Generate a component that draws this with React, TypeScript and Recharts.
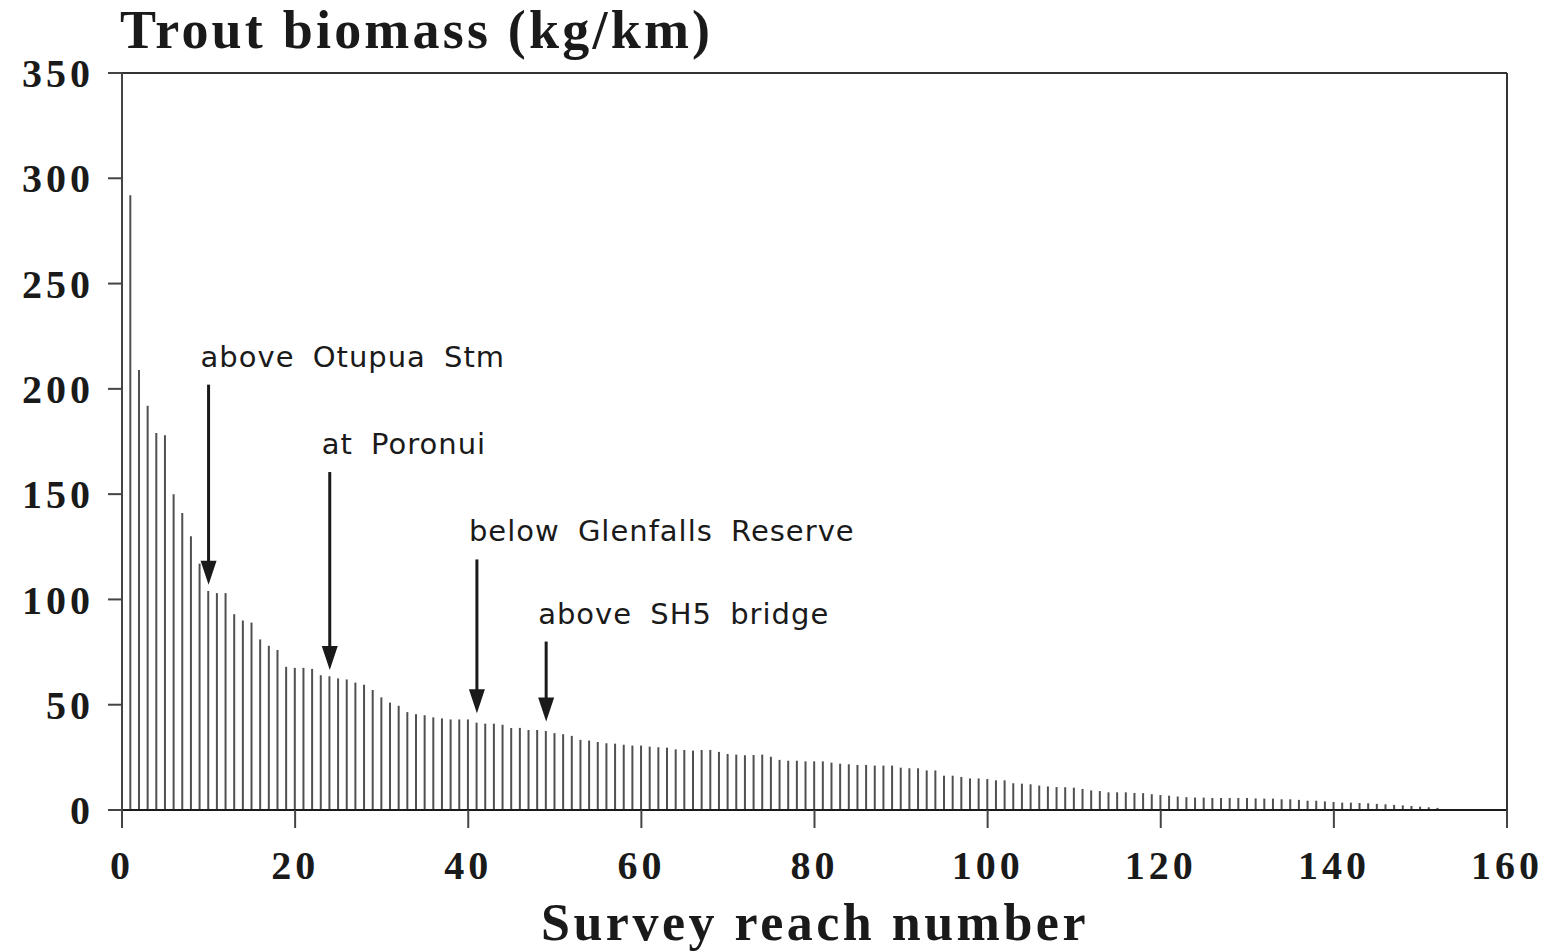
import { BarChart, Bar, XAxis, YAxis, ReferenceLine } from 'recharts';

// trout biomass (kg/km) for survey reaches 1..152, ranked high to low
const BIOMASS = [
    292, 209, 192, 179, 178, 150, 141, 130, 117, 104,
    103, 103, 93, 90, 89, 81, 78, 76, 68, 67.5,
    67.5, 67, 64, 63.5, 62.5, 62, 60.5, 59.5, 57, 53.5,
    51, 49.5, 46.5, 45.5, 45, 44, 43.5, 43, 43, 43,
    41.5, 41, 41, 40.5, 39, 39, 38, 38, 37.5, 36.5,
    36, 35.2, 33.3, 33, 32.3, 31.7, 31.5, 31, 30.6, 30.6,
    30.1, 29.8, 29.6, 28.8, 28.5, 28.2, 28.5, 28.5, 27.6, 26.6,
    26.3, 26, 26.1, 26.3, 25.3, 23.8, 23.4, 23.4, 23.1, 23.1,
    23.1, 22.5, 22, 21.7, 21.4, 21.4, 21.1, 21.1, 21.1, 20.1,
    19.8, 19.8, 18.8, 18.8, 16.3, 16.3, 15.7, 15, 15, 14.7,
    14.1, 14.1, 12.7, 12.5, 12.2, 11.6, 11.2, 10.9, 10.8, 10.6,
    10, 9.3, 9, 8.4, 8.4, 8.4, 8.1, 8, 7.5, 7.1,
    6.8, 6.4, 6.1, 5.9, 5.9, 5.7, 5.7, 5.7, 5.7, 5.7,
    5.5, 5.4, 5.4, 5.1, 5.1, 4.8, 4.4, 4.4, 4.1, 3.8,
    3.5, 3.5, 3.3, 3.2, 2.9, 2.7, 2.4, 2.2, 1.9, 1.6,
    1.3, 1.0,
];

const X_TICKS = [0, 20, 40, 60, 80, 100, 120, 140, 160];
const Y_TICKS = [0, 50, 100, 150, 200, 250, 300, 350];

const NOTE_TEXT = ['above Otupua Stm', 'at Poronui', 'below Glenfalls Reserve', 'above SH5 bridge'];
const NOTE_REACH = [10, 24, 41, 49];
const NOTE_FROM = [202, 160.5, 119, 80];
const NOTE_TO = [107, 66.5, 46, 42];

const rows = BIOMASS.map((biomass, i) => ({ reach: i + 1, biomass }));

const serif = '"Liberation Serif", "Times New Roman", serif';
const sans = '"DejaVu Sans", sans-serif';
const ink = '#1a1a1a';

const tickStyle = {
    fontFamily: serif,
    fontWeight: 700,
    fontSize: 40,
    fill: ink,
    letterSpacing: 4,
};

const ArrowNote = (props: any) => {
    const { x1, y1, x2, y2, text } = props;
    const top = Math.min(y1, y2);
    const tip = Math.max(y1, y2);
    return (
        <g>
            <text
                x={x1 - 8}
                y={top - 18}
                fontFamily={sans}
                fontSize={29}
                fill={ink}
                letterSpacing={1}
                style={{ wordSpacing: 8 }}
            >
                {text}
            </text>
            <line x1={x1} y1={top} x2={x2} y2={tip - 16} stroke={ink} strokeWidth={3} />
            <path d={`M${x2 - 8},${tip - 24} L${x2 + 8},${tip - 24} L${x2},${tip} Z`} fill={ink} />
        </g>
    );
};

export default function App() {
    return (
        <div style={{ position: 'absolute', left: 0, top: 0, background: '#fff' }}>
            <BarChart
                width={1550}
                height={952}
                data={rows}
                margin={{ top: 73, right: 43, bottom: 62, left: 0 }}
                barSize={2}
            >
                <XAxis
                    dataKey="reach"
                    type="number"
                    domain={[0, 160]}
                    ticks={X_TICKS}
                    interval={0}
                    height={80}
                    tickSize={18}
                    tickMargin={23}
                    stroke={ink}
                    tickLine={{ stroke: '#444', strokeWidth: 2 }}
                    axisLine={{ stroke: ink, strokeWidth: 2 }}
                    tick={tickStyle}
                />
                <YAxis
                    type="number"
                    domain={[0, 350]}
                    ticks={Y_TICKS}
                    interval={0}
                    width={122}
                    tickSize={14}
                    tickMargin={14}
                    stroke={ink}
                    tickLine={{ stroke: '#444', strokeWidth: 2 }}
                    axisLine={{ stroke: '#444', strokeWidth: 2 }}
                    tick={tickStyle}
                />
                <ReferenceLine y={350} stroke="#333" strokeWidth={2} />
                <ReferenceLine x={160} stroke="#333" strokeWidth={2} />
                <Bar dataKey="biomass" fill="#505050" isAnimationActive={false} />
                {NOTE_TEXT.map((text, i) => (
                    <ReferenceLine
                        key={text}
                        segment={[
                            { x: NOTE_REACH[i], y: NOTE_FROM[i] },
                            { x: NOTE_REACH[i], y: NOTE_TO[i] },
                        ]}
                        shape={(p: any) => <ArrowNote {...p} text={text} />}
                    />
                ))}
                <text
                    x={120}
                    y={48}
                    fontFamily={serif}
                    fontWeight={700}
                    fontSize={54}
                    fill={ink}
                    letterSpacing={3.2}
                >
                    Trout biomass (kg/km)
                </text>
                <text
                    x={815}
                    y={940}
                    textAnchor="middle"
                    fontFamily={serif}
                    fontWeight={700}
                    fontSize={52}
                    fill={ink}
                    letterSpacing={3.5}
                >
                    Survey reach number
                </text>
            </BarChart>
        </div>
    );
}
